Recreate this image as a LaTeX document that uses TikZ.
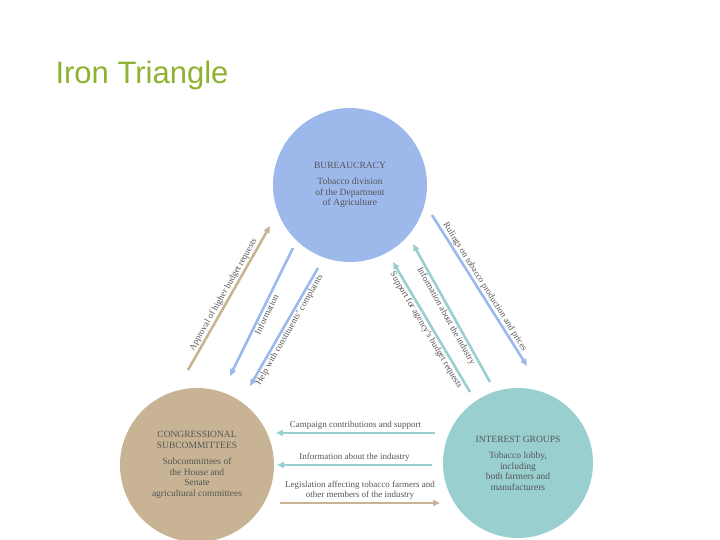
\documentclass[tikz,border=0pt]{standalone}
\usepackage{fontspec}
\setmainfont{Liberation Serif}
\newfontfamily\titlefont{Liberation Sans}
\usetikzlibrary{arrows.meta}
\definecolor{cblue}{HTML}{9DB9EC}
\definecolor{ctan}{HTML}{C8B495}
\definecolor{cteal}{HTML}{9ACFD0}
\definecolor{ctitle}{HTML}{8DB32E}
\definecolor{ctext}{HTML}{555555}
\begin{document}
\begin{tikzpicture}[x=1pt,y=1pt,
  circ/.style={circle,minimum size=154pt,inner sep=0pt,align=center,text=ctext,font=\fontsize{9.5}{10.5}\selectfont},
  arr/.style={line width=2.6pt,-{Triangle[length=7pt,width=6pt]}},
  lab/.style={font=\fontsize{9}{9.8}\selectfont,text=ctext,sloped,inner sep=1pt}]
\useasboundingbox (0,0) rectangle (720,-540);
\node[anchor=west,text=ctitle,font=\titlefont\fontsize{31}{34}\selectfont] (title) at (52,-75) {Iron Triangle};
\node[circ,fill=cblue] (bur) at (350,-185) {BUREAUCRACY\\[6pt]Tobacco division\\of the Department\\of Agriculture};
\node[circ,fill=ctan] (con) at (197,-465) {CONGRESSIONAL\\SUBCOMMITTEES\\[6pt]Subcommittees of\\the House and\\Senate\\agricultural committees};
\node[circ,fill=cteal,minimum size=150pt] (int) at (518,-463) {INTEREST GROUPS\\[6pt]Tobacco lobby,\\including\\both farmers and\\manufacturers};
\coordinate (a1) at (188,-370); \coordinate (a2) at (270,-226);
\coordinate (b1) at (293,-248); \coordinate (b2) at (230,-376);
\coordinate (c1) at (318,-268); \coordinate (c2) at (250,-386);
\coordinate (d1) at (432,-215); \coordinate (d2) at (527,-366);
\coordinate (e1) at (490,-382); \coordinate (e2) at (413,-244);
\coordinate (f1) at (470,-392); \coordinate (f2) at (393,-262);
\coordinate (g1) at (435,-433); \coordinate (g2) at (276,-433);
\coordinate (h1) at (432,-465); \coordinate (h2) at (277,-465);
\coordinate (i1) at (280,-503); \coordinate (i2) at (440,-503);
\draw[arr,ctan] (a1) -- node[lab,above] {Approval of higher budget requests} (a2);
\draw[arr,cblue] (b1) -- node[lab,below] {Information} (b2);
\draw[arr,cblue] (c1) -- node[lab,below] {Help with constituents' complaints} (c2);
\draw[arr,cblue] (d1) -- node[lab,above] {Rulings on tobacco production and prices} (d2);
\draw[arr,cteal] (e1) -- node[lab,below] {Information about the industry} (e2);
\draw[arr,cteal] (f1) -- node[lab,below] {Support for agency's budget requests} (f2);
\draw[arr,cteal] (g1) -- node[lab,above=1pt] {Campaign contributions and support} (g2);
\draw[arr,cteal] (h1) -- node[lab,above=1pt] {Information about the industry} (h2);
\draw[arr,ctan] (i1) -- node[lab,above=1pt,align=center] {Legislation affecting tobacco farmers and\\other members of the industry} (i2);
\end{tikzpicture}
\end{document}
